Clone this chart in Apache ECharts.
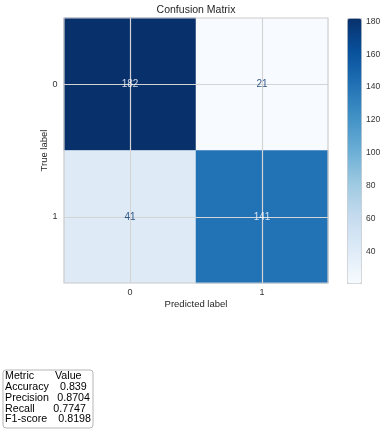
<!DOCTYPE html>
<html>
<head>
<meta charset="utf-8">
<script src="https://cdn.jsdelivr.net/npm/echarts@6/dist/echarts.min.js"></script>
<style>html,body{margin:0;padding:0;background:#fff;}#c{width:388px;height:432px;}</style>
</head>
<body>
<div id="c"></div>
<script>
// ---- data ----
const predictedLabels = ['0', '1'];
const trueLabels = ['0', '1'];
const matrixRow0 = [182, 21];
const matrixRow1 = [41, 141];
const colorbarTicks = [40, 60, 80, 100, 120, 140, 160, 180];
const metricNames = ['Accuracy', 'Precision', 'Recall', 'F1-score'];
const metricValues = ['0.839', '0.8704', '0.7747', '0.8198'];
const tableHeader = ['Metric', 'Value'];

const rows = [matrixRow0, matrixRow1];
const cells = [];
rows.forEach((r, yi) => r.forEach((v, xi) => cells.push([xi, yi, v])));
const all = rows.flat();
const vmin = Math.min(...all), vmax = Math.max(...all);
const thresh = (vmin + vmax) / 2;

const FONT = "'Liberation Sans', Arial, sans-serif";
const blues = ['#f7fbff','#deebf7','#c6dbef','#9ecae1','#6baed6','#4292c6','#2171b5','#08519c','#08306b'];

const chart = echarts.init(document.getElementById('c'));

// table graphics
const valueX = [60, 57.3, 53.3, 58.3];
const tableChildren = [
  {type: 'rect', shape: {x: 3, y: 370, width: 90, height: 58, r: 3}, style: {fill: '#fff', stroke: '#b5b5b5', lineWidth: 1}},
  {type: 'text', x: 5, y: 376, style: {text: tableHeader[0], font: '10.7px ' + FONT, fill: '#000', verticalAlign: 'middle'}},
  {type: 'text', x: 55, y: 376, style: {text: tableHeader[1], font: '10.7px ' + FONT, fill: '#000', verticalAlign: 'middle'}}
];
metricNames.forEach((n, i) => {
  const y = 387 + i * 10.8;
  tableChildren.push({type: 'text', x: 5, y: y, style: {text: n, font: '10.7px ' + FONT, fill: '#000', verticalAlign: 'middle'}});
  tableChildren.push({type: 'text', x: valueX[i], y: y, style: {text: metricValues[i], font: '10.7px ' + FONT, fill: '#000', verticalAlign: 'middle'}});
});

chart.setOption({
  animation: false,
  backgroundColor: '#fff',
  textStyle: {fontFamily: FONT},
  title: {
    text: 'Confusion Matrix', left: 196, top: 5, padding: 0, textAlign: 'center',
    textStyle: {fontSize: 10.5, fontWeight: 'normal', color: '#262626', fontFamily: FONT}
  },
  grid: [
    {left: 64, top: 18, width: 264, height: 265, show: true, backgroundColor: 'transparent', borderColor: '#cccccc', borderWidth: 1.2, z: 10},
    {left: 347, top: 18, width: 14, height: 265, show: false}
  ],
  xAxis: [
    {type: 'category', data: predictedLabels, gridIndex: 0,
     name: 'Predicted label', nameLocation: 'middle', nameGap: 16, nameMoveOverlap: false,
     nameTextStyle: {fontSize: 9.5, color: '#262626', fontFamily: FONT},
     axisLine: {show: false}, axisTick: {show: false}, splitLine: {show: false},
     axisLabel: {fontSize: 9, color: '#333', margin: 5.5, fontFamily: FONT}},
    {type: 'value', gridIndex: 1, show: false, min: 0, max: 1}
  ],
  yAxis: [
    {type: 'category', data: trueLabels, gridIndex: 0, inverse: true,
     name: 'True label', nameLocation: 'middle', nameGap: 14.5, nameRotate: 90, nameMoveOverlap: false,
     nameTextStyle: {fontSize: 9.5, color: '#262626', fontFamily: FONT},
     axisLine: {show: false}, axisTick: {show: false}, splitLine: {show: false},
     axisLabel: {fontSize: 9, color: '#333', margin: 6.5, fontFamily: FONT}},
    {type: 'value', gridIndex: 1, min: vmin, max: vmax, position: 'right',
     axisLine: {show: false}, axisTick: {show: false}, splitLine: {show: false},
     axisLabel: {customValues: colorbarTicks, fontSize: 8.5, color: '#333', margin: 5, fontFamily: FONT}}
  ],
  visualMap: {
    type: 'continuous', min: vmin, max: vmax, calculable: false, hoverLink: false,
    seriesIndex: 0, orient: 'vertical', left: 347, top: 18, itemWidth: 14, itemHeight: 265,
    padding: 0, borderColor: '#cccccc', borderWidth: 1, text: null, showLabel: false,
    inRange: {color: blues}
  },
  series: [{
    type: 'heatmap', xAxisIndex: 0, yAxisIndex: 0, data: cells, z: 2,
    emphasis: {disabled: true},
    label: {show: false},
    markLine: {
      silent: true, symbol: ['none', 'none'], label: {show: false},
      lineStyle: {color: '#d4d4d4', width: 1.2, type: 'solid'},
      data: predictedLabels.map((c, i) => ({xAxis: i})).concat(trueLabels.map((c, i) => ({yAxis: i})))
    }
  }, {
    type: 'scatter', xAxisIndex: 0, yAxisIndex: 0, data: cells, z: 5,
    symbolSize: 0, silent: true,
    label: {
      show: true, position: 'inside', fontSize: 10, fontFamily: FONT,
      formatter: p => (p.value[2] > thresh ? '{w|' : '{d|') + p.value[2] + '}',
      rich: {w: {color: '#ffffff', fontSize: 10, fontFamily: FONT}, d: {color: '#08306b', fontSize: 10, fontFamily: FONT}}
    }
  }],
  graphic: [{type: 'group', children: tableChildren}]
});
</script>
</body>
</html>
